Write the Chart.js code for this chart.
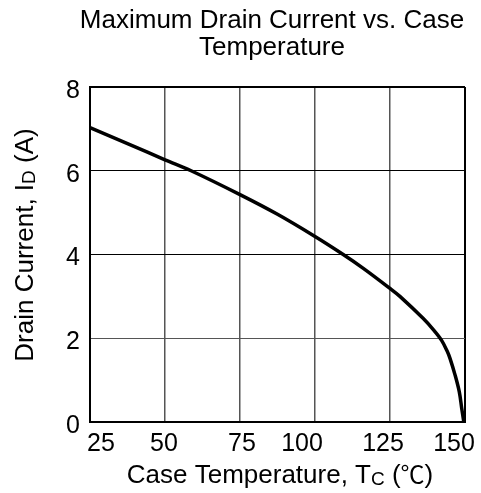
<!DOCTYPE html>
<html>
<head>
<meta charset="utf-8">
<script src="https://cdn.jsdelivr.net/npm/chart.js@4"></script>
<style>
    html, body { margin: 0; padding: 0; background: #fff; }
    #wrap { width: 481px; height: 493px; }
</style>
</head>
<body>
<div id="wrap"><canvas id="drainChart" width="481" height="493"></canvas></div>
<script>
// Values
const caseTemps = [25, 37.5, 50, 58.7, 75, 87.5, 100, 109.4, 116.1, 125, 128.3, 136.1, 139.5, 142.2, 144, 145, 146.7, 148.1, 148.9, 149.6];
const drainCurrents = [7.03, 6.65, 6.26, 6.0, 5.43, 4.96, 4.43, 4.0, 3.67, 3.19, 3.0, 2.47, 2.2, 1.95, 1.7, 1.52, 1.12, 0.72, 0.33, 0];
const xTicks = [25, 50, 75, 100, 125, 150];
const yTicks = [0, 2, 4, 6, 8];

// small horizontal nudges of the x tick labels, as in the original figure
const xLabelNudge = [11, -1, 2, -13, -7, -11];

const FONT = "'Liberation Sans', Arial, 'DejaVu Sans', 'Noto Sans CJK SC', sans-serif";
const CJK = "'Noto Sans CJK SC', sans-serif";

// Draw a line of text made of runs (for subscripts), centred on x
function drawRuns(ctx, runs, x, y) {
    let total = 0;
    runs.forEach(r => {
        ctx.font = r.size + 'px ' + (r.family || FONT);
        r.w = ctx.measureText(r.text).width;
        total += r.w;
    });
    let cx = x - total / 2;
    runs.forEach(r => {
        ctx.font = r.size + 'px ' + (r.family || FONT);
        ctx.fillText(r.text, cx, y + (r.dy || 0));
        cx += r.w;
    });
}

const titlesPlugin = {
    id: 'titles',
    afterDraw(chart) {
        const ctx = chart.ctx;
        const xScale = chart.scales.x;
        ctx.save();
        ctx.fillStyle = '#000';
        ctx.textBaseline = 'alphabetic';
        ctx.textAlign = 'left';

        // Main title, two lines
        drawRuns(ctx, [{ text: 'Maximum Drain Current vs. Case', size: 26 }], 272, 28);
        drawRuns(ctx, [{ text: 'Temperature', size: 26 }], 272, 55);

        // X tick labels
        xTicks.forEach((v, i) => {
            drawRuns(ctx, [{ text: String(v), size: 25 }], xScale.getPixelForValue(v) + xLabelNudge[i], 451);
        });

        // X axis title
        drawRuns(ctx, [
            { text: 'Case Temperature, T', size: 26 },
            { text: 'C', size: 19, dy: 2 },
            { text: ' (', size: 26 },
            { text: '\u2103', size: 24, family: CJK },
            { text: ')', size: 26 }
        ], 280, 483);

        // Y axis title, rotated
        ctx.translate(33, 245);
        ctx.rotate(-Math.PI / 2);
        drawRuns(ctx, [
            { text: 'Drain Current, I', size: 26 },
            { text: 'D', size: 19, dy: 2 },
            { text: ' (A)', size: 26 }
        ], 0, 0);
        ctx.restore();
    }
};

const ctx = document.getElementById('drainChart').getContext('2d');
new Chart(ctx, {
    type: 'scatter',
    data: {
        datasets: [{
            data: caseTemps.map((t, i) => ({ x: t, y: drainCurrents[i] })),
            showLine: true,
            borderColor: '#000',
            borderWidth: 3.5,
            pointRadius: 0,
            tension: 0.35,
            clip: false
        }]
    },
    options: {
        responsive: false,
        animation: false,
        layout: { padding: { left: 0, right: 16, top: 87, bottom: 0 } },
        plugins: {
            legend: { display: false },
            tooltip: { enabled: false },
            title: { display: false }
        },
        scales: {
            x: {
                type: 'linear',
                min: 25,
                max: 150,
                afterBuildTicks: scale => { scale.ticks = xTicks.map(v => ({ value: v })); },
                afterFit: scale => { scale.height = 71; scale.paddingLeft = 0; scale.paddingRight = 0; },
                ticks: { display: false },
                grid: {
                    drawTicks: false,
                    color: c => (c.tick && (c.tick.value === 25 || c.tick.value === 150)) ? '#000' : '#555',
                    lineWidth: c => (c.tick && (c.tick.value === 25 || c.tick.value === 150)) ? 2 : 1.5
                },
                border: { color: '#000', width: 2 }
            },
            y: {
                min: 0,
                max: 8,
                afterBuildTicks: scale => { scale.ticks = yTicks.map(v => ({ value: v })); },
                afterFit: scale => { scale.width = 90; scale.paddingTop = 0; scale.paddingBottom = 0; },
                ticks: {
                    color: '#000',
                    font: { family: FONT, size: 25 },
                    padding: 10,
                    labelOffset: 4
                },
                grid: {
                    drawTicks: false,
                    color: c => {
                        const v = c.tick && c.tick.value;
                        if (v === 2) return '#555';
                        return '#000';
                    },
                    lineWidth: c => {
                        const v = c.tick && c.tick.value;
                        return (v === 0 || v === 8) ? 2 : 1;
                    }
                },
                border: { color: '#000', width: 2 }
            }
        }
    },
    plugins: [titlesPlugin]
});
</script>
</body>
</html>
